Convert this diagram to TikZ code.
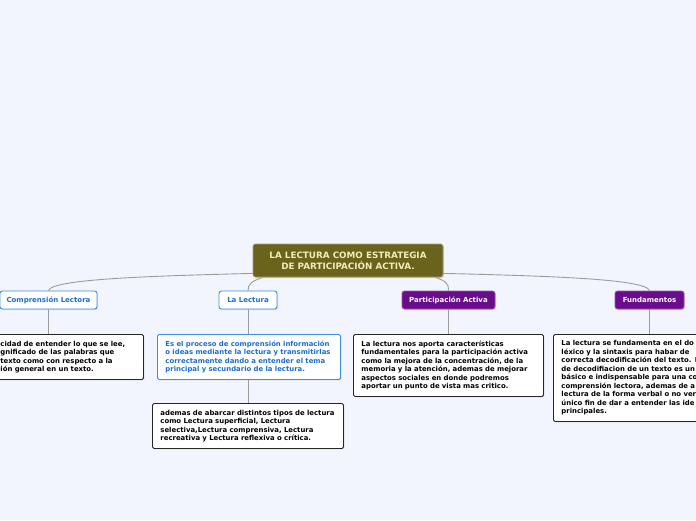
\documentclass[tikz,border=0pt]{standalone}
\usepackage{fontspec}
\setmainfont{DejaVu Sans}
\usetikzlibrary{shadows,calc}
\definecolor{bg}{HTML}{F2F5FD}
\definecolor{olive}{HTML}{6A631C}
\definecolor{olivebd}{HTML}{A09C78}
\definecolor{cream}{HTML}{F2EBB8}
\definecolor{purp}{HTML}{6B0C8C}
\definecolor{bluebd}{HTML}{3D8DE2}
\definecolor{bluetx}{HTML}{1C6ED0}
\definecolor{conncol}{HTML}{9C9C9C}
\tikzset{
  conn/.style={draw=conncol, line width=0.9pt},
  shad/.style={drop shadow={opacity=0.25, shadow xshift=1pt, shadow yshift=-1pt}},
  centralbox/.style={shad, fill=olive, draw=olivebd, line width=0.8pt, rounded corners=2.5pt,
    minimum width=190, minimum height=33, inner sep=0pt, align=center, text=cream,
    font=\fontsize{8.8}{11}\selectfont\bfseries},
  bluechild/.style={shad, fill=white, draw=bluebd, line width=0.9pt, rounded corners=2.5pt,
    minimum height=18, inner sep=0pt, text=bluetx, font=\fontsize{7}{8}\selectfont\bfseries},
  purpchild/.style={shad, fill=purp, draw=purp!70!white, line width=0.8pt, rounded corners=2.5pt,
    minimum height=18, inner sep=0pt, text=white, font=\fontsize{7}{8}\selectfont\bfseries},
  leaf/.style={shad, fill=white, draw=black!85, line width=0.9pt, rounded corners=1.5pt,
    anchor=north west, inner xsep=8pt, inner ysep=0pt, align=left, text=black,
    font=\fontsize{6.9}{8.5}\selectfont\bfseries},
  blueleaf/.style={leaf, draw=bluebd, text=bluetx},
}
\begin{document}
\begin{tikzpicture}[x=1pt,y=-1pt]
\useasboundingbox (0,0) rectangle (696,520);
\fill[bg] (0,0) rectangle (696,520);

% central node
\node[centralbox] (c) at (348,260.5) {LA LECTURA COMO ESTRATEGIA\\DE PARTICIPACIÓN ACTIVA.};

% children
\node[bluechild, minimum width=97] (cl) at (48.5,300) {Comprensión Lectora};
\node[bluechild, minimum width=58] (ll) at (248,300) {La Lectura};
\node[purpchild, minimum width=93] (pa) at (448.5,300) {Participación Activa};
\node[purpchild, minimum width=69] (fu) at (649.5,300) {Fundamentos};

% leaves
\node[leaf, text width=135, minimum height=45] (cleaf) at (-8,334)
 {cidad de entender lo que se lee,\\gnificado de las palabras que\\ texto como con respecto a la\\ión general en un texto.};
\node[blueleaf, text width=167, minimum height=45] (lleaf) at (157,334)
 {Es el proceso de comprensión información\\o ideas mediante la lectura y transmitirlas\\correctamente dando a entender el tema\\principal y secundario de la lectura.};
\node[leaf, text width=175, minimum height=45] (lleaf2) at (152,403)
 {ademas de abarcar distintos tipos de lectura\\como Lectura superficial, Lectura\\selectiva,Lectura comprensiva, Lectura\\recreativa y Lectura reflexiva o crítica.};
\node[leaf, text width=174, minimum height=62] (pleaf) at (353,334)
 {La lectura nos aporta características\\fundamentales para la participación activa\\como la mejora de la concentración, de la\\memoria y la atención, ademas de mejorar\\aspectos sociales en donde podremos\\aportar un punto de vista mas critico.};
\node[leaf, text width=160, minimum height=87] (fleaf) at (553,334)
 {La lectura se fundamenta en el do\\léxico y la sintaxis para habar de\\correcta decodificación del texto. I\\de decodifiacion de un texto es un\\básico e indispensable para una co\\comprensión lectora, ademas de a\\lectura de la forma verbal o no ver\\único fin de dar a entender las ide\\principales.};

% connectors
\draw[conn] ($(c.south west)+(0,-4)$) .. controls (150,276) and (52,279) .. (cl.north);
\draw[conn] ($(c.south west)+(10,0)$) .. controls (252,281) and (248,284) .. (ll.north);
\draw[conn] ($(c.south east)+(-8,0)$) .. controls (446,281) and (449,284) .. (pa.north);
\draw[conn] ($(c.south east)+(0,-4)$) .. controls (550,276) and (646,279) .. (fu.north);
\draw[conn] (cl.south) -- (cl.south |- cleaf.north);
\draw[conn] (ll.south) -- (ll.south |- lleaf.north);
\draw[conn] (ll.south |- lleaf.south) -- (ll.south |- lleaf2.north);
\draw[conn] (pa.south) -- (pa.south |- pleaf.north);
\draw[conn] (fu.south) -- (fu.south |- fleaf.north);
\end{tikzpicture}
\end{document}
